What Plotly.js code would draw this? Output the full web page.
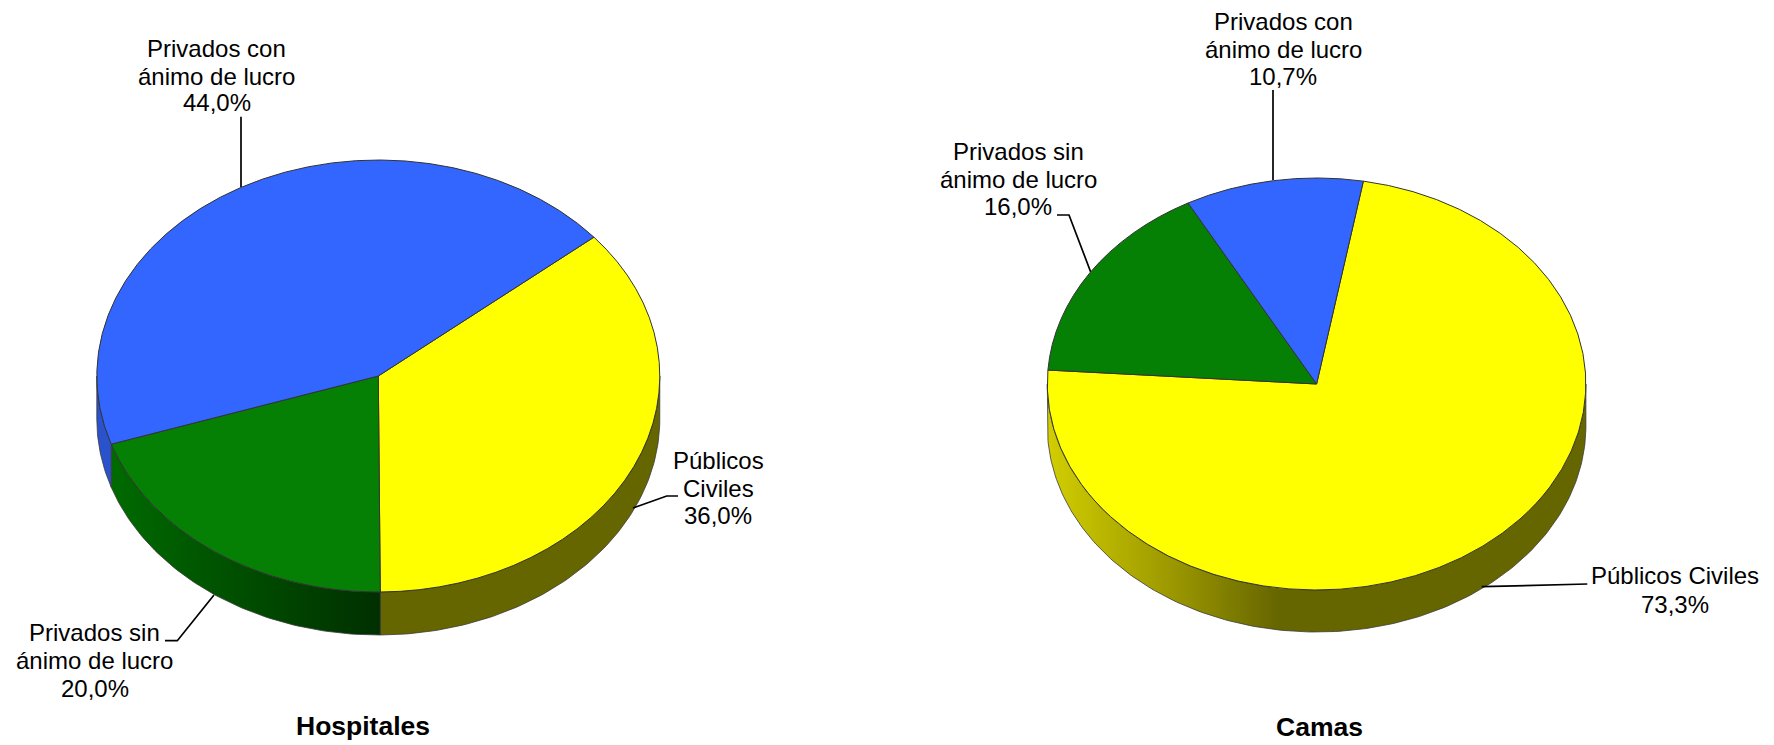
<!DOCTYPE html>
<html>
<head>
<meta charset="utf-8">
<script src="https://cdn.plot.ly/plotly-3.0.1.min.js"></script>
<style>html,body{margin:0;padding:0;background:#fff}#chart{width:1774px;height:745px}</style>
</head>
<body>
<div id="chart"></div>
<script>
const categories = ['Públicos Civiles', 'Privados sin ánimo de lucro', 'Privados con ánimo de lucro'];
const hospitalesValues = [36.0, 20.0, 44.0];
const camasValues = [73.3, 16.0, 10.7];
const sliceColors = ['#FFFF00', '#058005', '#3366FF'];

const W = 1774, H = 745, FONT = 'Liberation Sans, Arial, sans-serif';

const pct = v => v.toFixed(1).replace('.', ',') + '%';

// Pie geometry, in pixels of the 1774x745 page
const pies = [
  { title: 'Hospitales', titlePos: [363, 726], values: hospitalesValues, rotation: 50,
    cx: 378.3, cy: 376, rx: 281.5, ry: 216, depth: 43,
    walls: [
      { colorscale: [[0, '#666600'], [1, '#666600']] },
      { start: 112, stop: 378, colorscale: [[0, '#006a00'], [1, '#003000']] },
      { colorscale: [[0, '#2a52cc'], [1, '#2a52cc']] }
    ],
    labels: [
      { lines: ['Públicos', 'Civiles'], value: 0, x: 718, y: [460, 488, 515],
        leader: [[678, 496], [666.7, 496], [633, 508]] },
      { lines: ['Privados sin', 'ánimo de lucro'], value: 1, x: 94.5, y: [632, 660, 688],
        leader: [[165, 640.7], [177.3, 640.7], [214, 595]] },
      { lines: ['Privados con', 'ánimo de lucro'], value: 2, x: 216.7, y: [48, 76, 102],
        leader: [[241, 116.7], [241, 187]] }
    ] },
  { title: 'Camas', titlePos: [1319.5, 727], values: camasValues, rotation: 10,
    cx: 1316.6, cy: 384, rx: 269.3, ry: 206, depth: 42,
    walls: [
      { start: 1047, stop: 1278, colorscale: [[0, '#d2ce00'], [0.5, '#a09c00'], [1, '#666600']] },
      { colorscale: [[0, '#006000'], [1, '#006000']] },
      { colorscale: [[0, '#2a52cc'], [1, '#2a52cc']] }
    ],
    labels: [
      { lines: ['Públicos Civiles'], value: 0, x: 1675, y: [575, 604],
        leader: [[1587.3, 584], [1481.7, 586.7]] },
      { lines: ['Privados sin', 'ánimo de lucro'], value: 1, x: 1018, y: [151, 179, 206],
        leader: [[1057, 215], [1069, 215], [1090.7, 272]] },
      { lines: ['Privados con', 'ánimo de lucro'], value: 2, x: 1283, y: [21.5, 49, 76],
        leader: [[1273, 90], [1273, 180]] }
    ] }
];

const traces = [];
const annotations = [];

pies.forEach(p => {
  // Side walls, from the same shares that drive the pie slices
  let a = p.rotation;
  const total = p.values.reduce((s, v) => s + v, 0);
  p.values.forEach((v, i) => {
    const b = a + v / total * 360;
    const from = Math.max(a, 90), to = Math.min(b, 270);
    if (to > from) {
      const xs = [], ys = [];
      const n = Math.ceil(to - from);
      for (let k = 0; k <= n; k++) {
        const t = (from + (to - from) * k / n) * Math.PI / 180;
        xs.push(p.cx + p.rx * Math.sin(t));
        ys.push(p.cy - p.ry * Math.cos(t));
      }
      for (let k = n; k >= 0; k--) {
        xs.push(xs[k]);
        ys.push(ys[k] + p.depth);
      }
      xs.push(xs[0]); ys.push(ys[0]);
      const w = p.walls[i];
      const grad = { type: 'horizontal', colorscale: w.colorscale };
      if (w.start !== undefined) { grad.start = w.start; grad.stop = w.stop; }
      traces.push({
        type: 'scatter', mode: 'lines', x: xs, y: ys, fill: 'toself', fillgradient: grad,
        line: { color: '#3a3a3a', width: 0.8 }, hoverinfo: 'skip', showlegend: false
      });
    }
    a = b;
  });

  // Top face
  traces.push({
    type: 'pie', labels: categories, values: p.values, sort: false, direction: 'clockwise',
    rotation: p.rotation, textinfo: 'none', showlegend: false, automargin: false,
    marker: { colors: sliceColors, line: { color: '#333333', width: 1 } },
    domain: {
      x: [(p.cx - p.rx) / W, (p.cx + p.rx) / W],
      y: [1 - (p.cy + p.rx) / H, 1 - (p.cy - p.rx) / H]
    },
    name: p.title
  });

  // Labels and leader lines
  p.labels.forEach(l => {
    const texts = l.lines.concat([pct(p.values[l.value])]);
    texts.forEach((t, j) => annotations.push({
      xref: 'x', yref: 'y', x: l.x, y: l.y[j], text: t, showarrow: false,
      xanchor: 'center', yanchor: 'middle', font: { family: FONT, size: 24, color: '#000' }
    }));
    traces.push({
      type: 'scatter', mode: 'lines', x: l.leader.map(q => q[0]), y: l.leader.map(q => q[1]),
      line: { color: '#000', width: 1.7 }, hoverinfo: 'skip', showlegend: false
    });
  });

  annotations.push({
    xref: 'x', yref: 'y', x: p.titlePos[0], y: p.titlePos[1], text: '<b>' + p.title + '</b>',
    showarrow: false, xanchor: 'center', yanchor: 'middle',
    font: { family: FONT, size: 26.5, color: '#000' }
  });
});

const hiddenAxis = r => ({ range: r, visible: false, fixedrange: true, showgrid: false, zeroline: false });

Plotly.newPlot('chart', traces, {
  width: W, height: H, margin: { l: 0, r: 0, t: 0, b: 0 },
  paper_bgcolor: '#fff', plot_bgcolor: '#fff',
  xaxis: hiddenAxis([0, W]), yaxis: hiddenAxis([H, 0]),
  annotations: annotations, showlegend: false
}, { displayModeBar: false, staticPlot: true }).then(gd => {
  // The pie is drawn as a circle; flatten each one to the perspective ellipse
  gd.querySelectorAll('.pielayer .trace').forEach((g, i) => {
    const p = pies[i];
    g.setAttribute('transform',
      `translate(0 ${p.cy}) scale(1 ${p.ry / p.rx}) translate(0 ${-p.cy})`);
    g.querySelectorAll('path').forEach(el => el.style.vectorEffect = 'non-scaling-stroke');
  });
});
</script>
</body>
</html>
